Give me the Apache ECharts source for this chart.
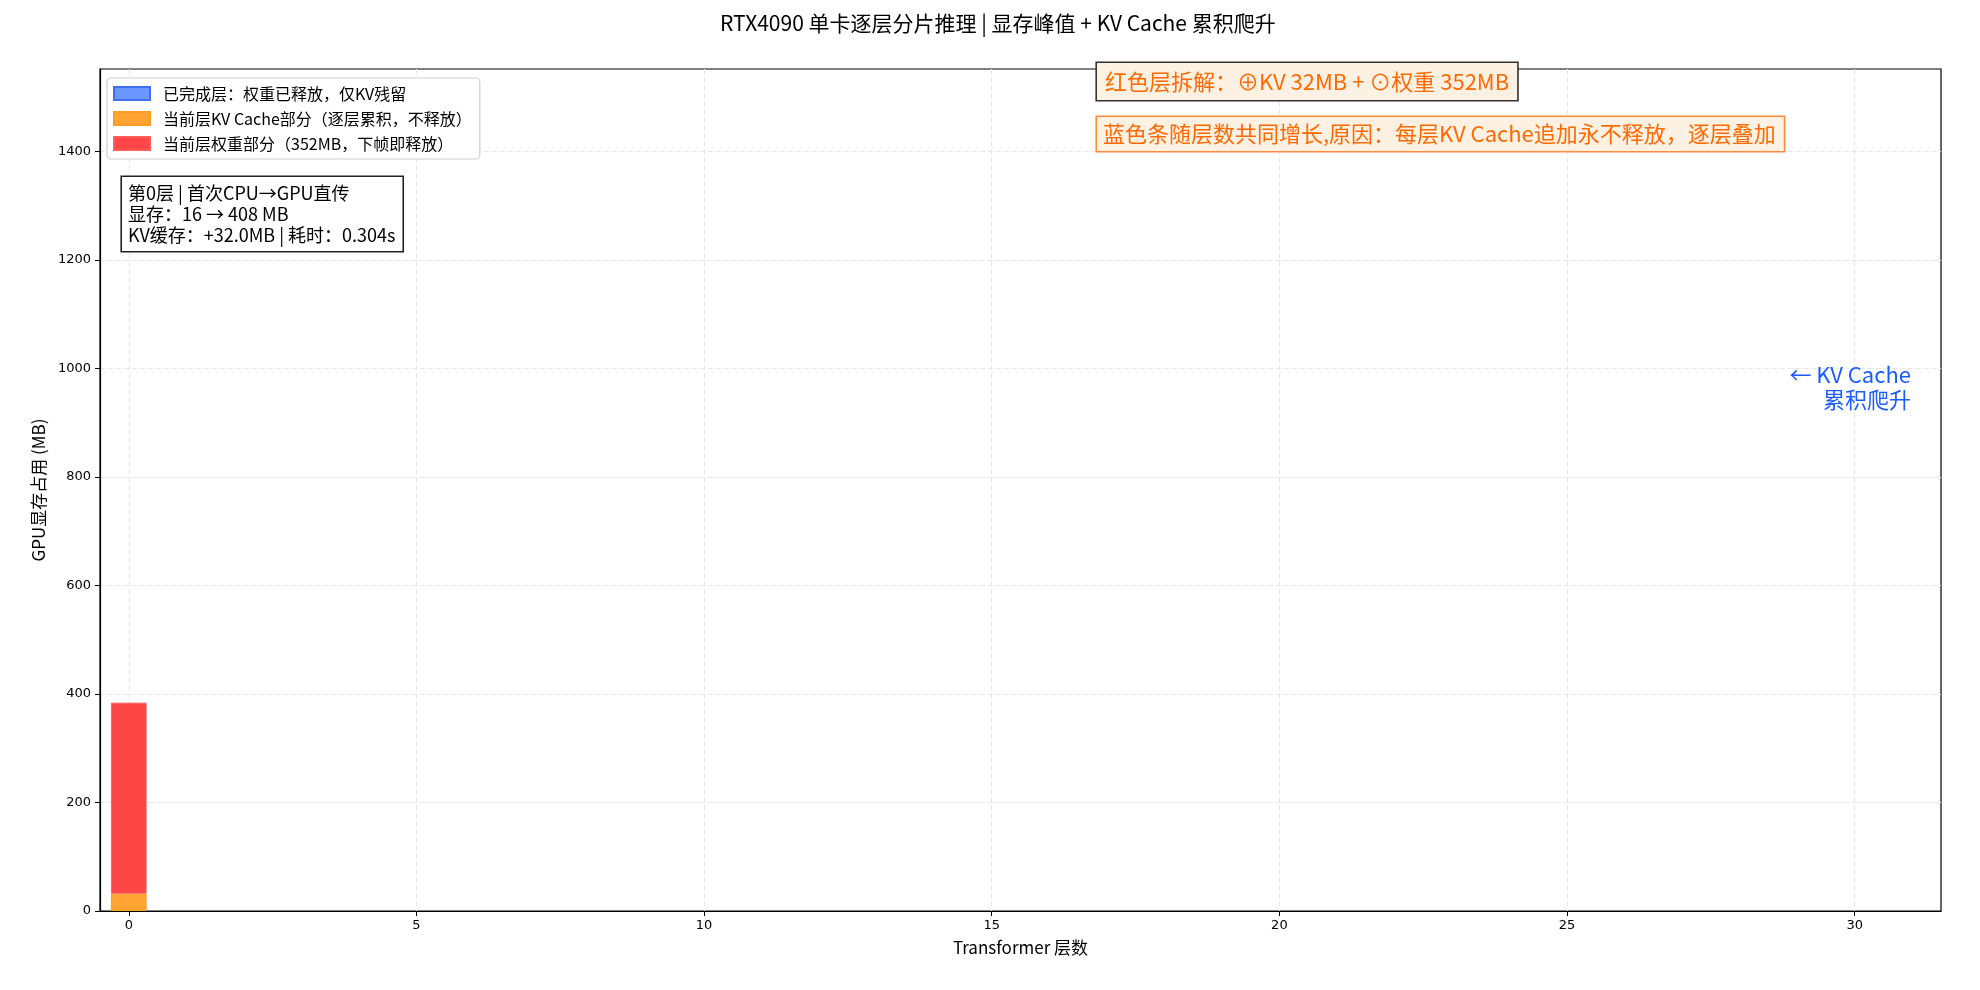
<!DOCTYPE html>
<html lang="zh">
<head>
<meta charset="UTF-8">
<title>RTX4090 逐层显存</title>
<script src="https://cdn.jsdelivr.net/npm/echarts@6/dist/echarts.min.js"></script>
<style>
  html, body { margin: 0; padding: 0; background: #fff; }
  #chart { width: 1980px; height: 990px; }
</style>
</head>
<body>
<div id="chart"></div>
<script type="text/javascript">
// 层编号 0..31
var layers = [0, 1, 2, 3, 4, 5, 6, 7, 8, 9, 10, 11, 12, 13, 14, 15,
              16, 17, 18, 19, 20, 21, 22, 23, 24, 25, 26, 27, 28, 29, 30, 31];
// 已完成层残留的 KV (MB) —— 第0层时还没有
var doneKV = [null, null, null, null, null, null, null, null, null, null, null, null, null, null, null, null,
              null, null, null, null, null, null, null, null, null, null, null, null, null, null, null, null];
// 当前层 KV Cache 部分 (MB)
var currentKV = [32, null, null, null, null, null, null, null, null, null, null, null, null, null, null, null,
                 null, null, null, null, null, null, null, null, null, null, null, null, null, null, null, null];
// 当前层权重部分 (MB)
var currentWeight = [352, null, null, null, null, null, null, null, null, null, null, null, null, null, null, null,
                     null, null, null, null, null, null, null, null, null, null, null, null, null, null, null, null];
var yTicks = [0, 200, 400, 600, 800, 1000, 1200, 1400];

var seriesNames = ['已完成层：权重已释放，仅KV残留', '当前层KV Cache部分（逐层累积，不释放）', '当前层权重部分（352MB，下帧即释放）'];
var infoLines = ['第0层 | 首次CPU→GPU直传', '显存：16 → 408 MB', 'KV缓存：+32.0MB | 耗时：0.304s'];

var cjk = '"Noto Sans CJK SC", "DejaVu Sans", sans-serif';
var tickFont = '"DejaVu Sans", sans-serif';

var myChart = echarts.init(document.getElementById('chart'));

function every5(idx) { return idx % 5 === 0; }

var option = {
    backgroundColor: '#fff',
    animation: false,
    grid: {
        left: 100, right: 39, top: 69, bottom: 79,
        show: true, borderColor: '#000', borderWidth: 1.2, backgroundColor: 'transparent'
    },
    legend: {
        orient: 'vertical',
        left: 107, top: 78,
        padding: [7, 8, 7, 6],
        itemWidth: 36, itemHeight: 13, itemGap: 8,
        icon: 'rect',
        backgroundColor: '#fff',
        borderColor: '#d0d0d0', borderWidth: 1.2, borderRadius: 4,
        textStyle: { fontFamily: cjk, fontSize: 16, color: '#000', lineHeight: 17, padding: [0, 0, 0, 8] },
        data: seriesNames
    },
    xAxis: {
        type: 'category',
        data: layers,
        name: 'Transformer 层数',
        nameLocation: 'middle',
        nameGap: 28,
        nameTextStyle: { fontFamily: cjk, fontSize: 17, color: '#000', verticalAlign: 'top' },
        axisLine: { lineStyle: { color: '#000', width: 1.2 } },
        axisTick: { show: true, alignWithLabel: true, interval: every5, length: 5, lineStyle: { color: '#000' } },
        axisLabel: { interval: every5, margin: 8, fontFamily: tickFont, fontSize: 13, color: '#000' },
        splitLine: { show: true, alignWithLabel: true, interval: every5, lineStyle: { color: '#e6e6e6', type: [5, 3], width: 1 } }
    },
    yAxis: {
        type: 'value',
        min: 0, max: 1552, interval: 200,
        name: 'GPU显存占用 (MB)',
        nameLocation: 'middle',
        nameGap: 42,
        nameTextStyle: { fontFamily: cjk, fontSize: 17, color: '#000' },
        axisLine: { show: true, lineStyle: { color: '#000', width: 1.2 } },
        axisTick: { show: true, length: 5, lineStyle: { color: '#000' } },
        axisLabel: {
            showMaxLabel: false, margin: 9, fontFamily: tickFont, fontSize: 13, color: '#000',
            formatter: function (v) { return yTicks.indexOf(v) >= 0 ? String(v) : ''; }
        },
        splitLine: { show: true, showMaxLine: false, showMinLine: false, lineStyle: { color: '#e6e6e6', type: [5, 3], width: 1 } }
    },
    series: [
        {
            name: seriesNames[0], type: 'bar', stack: 'mem', barWidth: '62%',
            data: doneKV,
            itemStyle: { color: '#6b95ff', borderColor: '#3f6ff2', borderWidth: 1 }
        },
        {
            name: seriesNames[1], type: 'bar', stack: 'mem', barWidth: '62%',
            data: currentKV,
            itemStyle: { color: '#ffa333', borderColor: '#ff9a22', borderWidth: 1 }
        },
        {
            name: seriesNames[2], type: 'bar', stack: 'mem', barWidth: '62%',
            data: currentWeight,
            itemStyle: { color: '#ff4646', borderColor: '#ff5c5c', borderWidth: 1 }
        }
    ],
    graphic: [
        {
            type: 'text', left: 1020 - 300, top: 13, z: 100,
            style: {
                text: 'RTX4090 单卡逐层分片推理 | 显存峰值 + KV Cache 累积爬升',
                font: '21px ' + cjk, fill: '#000', width: 600, align: 'center'
            }
        },
        {
            type: 'text', x: 122, y: 177, z: 100,
            style: {
                text: infoLines.join('\n'),
                font: '18px ' + cjk, fill: '#000', lineHeight: 21,
                backgroundColor: '#fff', borderColor: '#222', borderWidth: 1.6,
                padding: [6, 7, 5, 6]
            }
        },
        {
            type: 'text', x: 1097, y: 63, z: 100,
            style: {
                text: '红色层拆解：⊕KV 32MB + ⊙权重 352MB',
                font: '22px ' + cjk, fill: '#ff6a00', lineHeight: 26,
                backgroundColor: '#fdf1e4', borderColor: '#333', borderWidth: 1.6,
                padding: [6, 8, 5, 8]
            }
        },
        {
            type: 'text', x: 1097, y: 117, z: 100,
            style: {
                text: '蓝色条随层数共同增长,原因：每层KV Cache追加永不释放，逐层叠加',
                font: '22px ' + cjk, fill: '#ff6a00', lineHeight: 26,
                backgroundColor: '#fdf1e4', borderColor: '#ff8c3a', borderWidth: 1.6,
                padding: [4, 8, 4, 6]
            }
        },
        {
            type: 'text', x: 1911, y: 362, z: 100,
            style: {
                text: '← KV Cache\n累积爬升',
                font: '22px ' + cjk, fill: '#1a5cff', lineHeight: 25, align: 'right'
            }
        }
    ]
};

myChart.setOption(option);
</script>
</body>
</html>
